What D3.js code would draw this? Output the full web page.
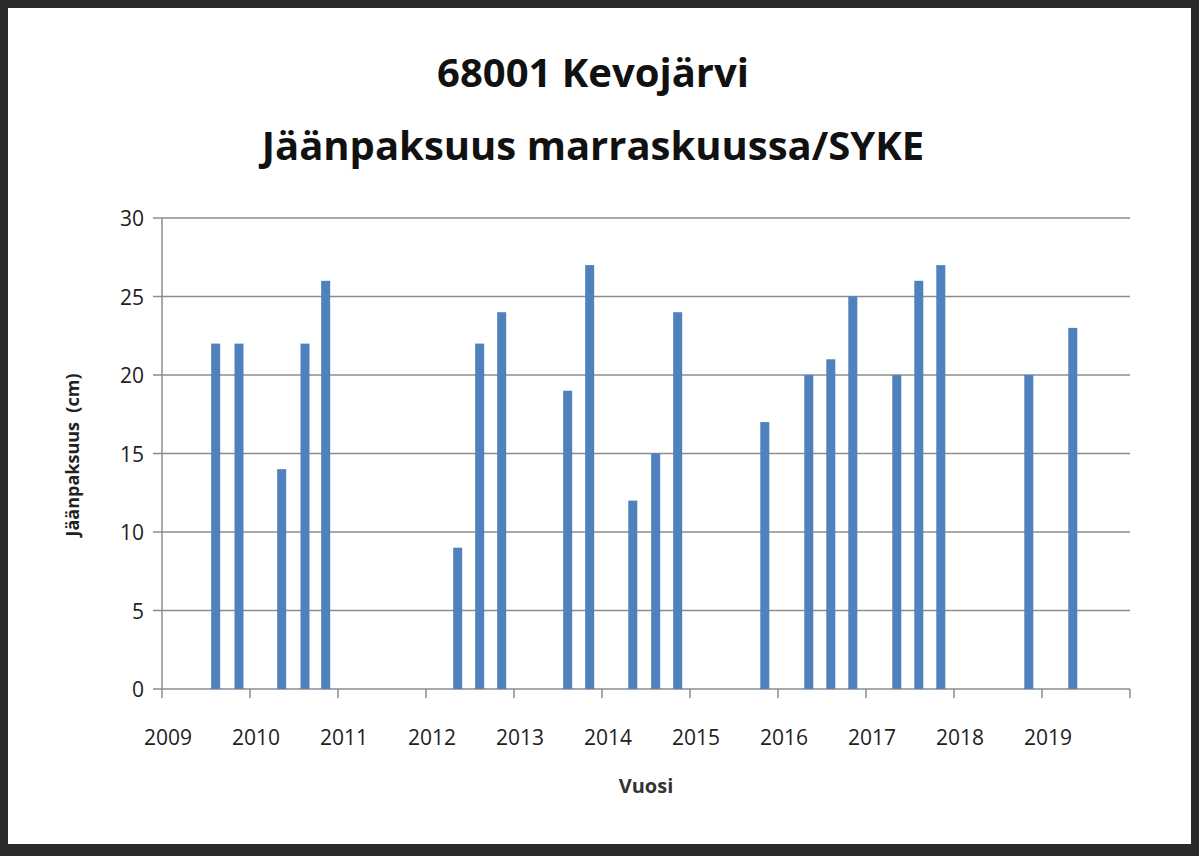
<!DOCTYPE html>
<html><head><meta charset="utf-8">
<script src="https://cdn.jsdelivr.net/npm/d3@7"></script>
<style>body{margin:0;background:#222;}svg{display:block;font-family:"Open Sans","DejaVu Sans",sans-serif;}</style>
</head><body>
<svg id="c" width="1199" height="856"></svg>
<script>
const years = [2009.61,2009.875,2010.36,2010.625,2010.86,2012.36,2012.61,2012.86,2013.61,2013.86,2014.35,2014.61,2014.86,2015.85,2016.35,2016.60,2016.85,2017.35,2017.60,2017.85,2018.85,2019.35];
const values = [22,22,14,22,26,9,22,24,19,27,12,15,24,17,20,21,25,20,26,27,20,23];
const xTicks = [2009,2010,2011,2012,2013,2014,2015,2016,2017,2018,2019];
const yTicks = [0,5,10,15,20,25,30];

const svg = d3.select("#c");
svg.append("rect").attr("x",0).attr("y",0).attr("width",1199).attr("height",856).attr("fill","#2a2a2a");
svg.append("rect").attr("x",8).attr("y",8).attr("width",1183).attr("height",836).attr("fill","#fff");

const x = d3.scaleLinear().domain([2009,2020]).range([162,1130]);
const y = d3.scaleLinear().domain([0,30]).range([689,218]);

svg.append("g").selectAll("line").data(yTicks).join("line")
  .attr("x1",162).attr("x2",1130).attr("y1",d=>y(d)).attr("y2",d=>y(d))
  .attr("stroke","#8c8c8c").attr("stroke-width",1.5);
svg.append("line").attr("x1",162).attr("x2",162).attr("y1",218).attr("y2",689).attr("stroke","#8c8c8c").attr("stroke-width",1.5);
svg.append("g").selectAll("line").data(yTicks).join("line")
  .attr("x1",153).attr("x2",162).attr("y1",d=>y(d)).attr("y2",d=>y(d)).attr("stroke","#8c8c8c").attr("stroke-width",1.5);
svg.append("g").selectAll("line").data(xTicks.concat([2020])).join("line")
  .attr("x1",d=>x(d)).attr("x2",d=>x(d)).attr("y1",689).attr("y2",698).attr("stroke","#8c8c8c").attr("stroke-width",1.5);

svg.append("g").selectAll("rect").data(years).join("rect")
  .attr("x",d=>x(d)-4.5).attr("width",9)
  .attr("y",(d,i)=>y(values[i])).attr("height",(d,i)=>y(0)-y(values[i]))
  .attr("fill","#4f81bd");

svg.append("g").selectAll("text").data(yTicks).join("text")
  .attr("x",144).attr("y",d=>y(d)+8).attr("text-anchor","end")
  .attr("font-size",21).attr("fill","#222").text(d=>d);
svg.append("g").selectAll("text").data(xTicks).join("text")
  .attr("x",d=>x(d)+6).attr("y",745).attr("text-anchor","middle")
  .attr("font-size",21).attr("fill","#222").text(d=>d);

svg.append("text").attr("x",646).attr("y",793).attr("text-anchor","middle")
  .attr("font-size",20).attr("font-weight","bold").attr("fill","#333").text("Vuosi");
svg.append("text").attr("transform","translate(79,455) rotate(-90)").attr("text-anchor","middle")
  .attr("font-size",18).attr("font-weight","bold").attr("fill","#222").attr("xml:space","preserve").text("Jäänpaksuus  (cm)");

svg.append("text").attr("x",593).attr("y",87).attr("text-anchor","middle")
  .attr("font-size",40).attr("font-weight","bold").attr("fill","#111").text("68001 Kevojärvi");
svg.append("text").attr("x",593).attr("y",160).attr("text-anchor","middle")
  .attr("font-size",40).attr("font-weight","bold").attr("fill","#111").text("Jäänpaksuus marraskuussa/SYKE");
</script>
</body></html>
